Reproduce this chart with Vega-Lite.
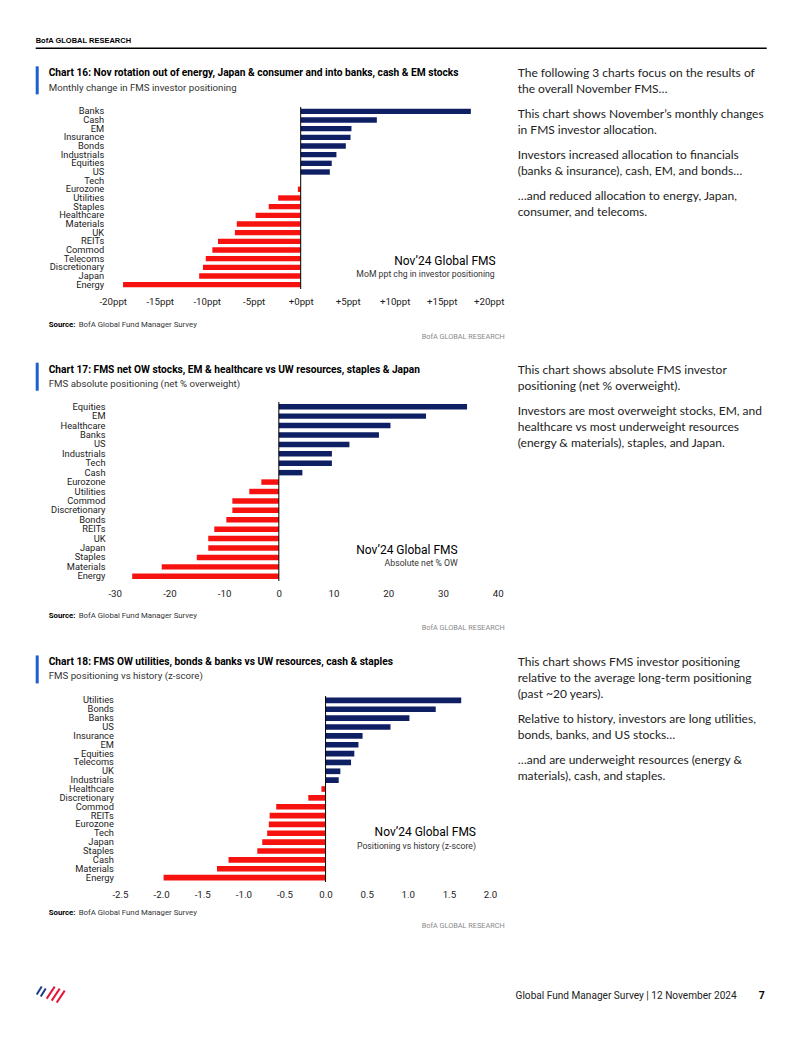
{
  "$schema": "https://vega.github.io/schema/vega-lite/v6.json",
  "padding": {"left": 34, "top": 37, "right": 0, "bottom": 0},
  "autosize": {"type": "pad"},
  "background": "white",
  "spacing": 21,
  "config": {
    "view": {"stroke": null},
    "axis": {"labelFont": "Roboto", "labelColor": "#222", "domain": false, "ticks": false, "grid": false, "labelFlush": false, "labelOverlap": false},
    "text": {"font": "Roboto"}
  },
  "datasets": {
    "c16": [
      {"cat": "Banks", "value": 18.1}, {"cat": "Cash", "value": 8.1}, {"cat": "EM", "value": 5.4},
      {"cat": "Insurance", "value": 5.3}, {"cat": "Bonds", "value": 4.8}, {"cat": "Industrials", "value": 3.8},
      {"cat": "Equities", "value": 3.3}, {"cat": "US", "value": 3.1}, {"cat": "Tech", "value": 0},
      {"cat": "Eurozone", "value": -0.3}, {"cat": "Utilities", "value": -2.4}, {"cat": "Staples", "value": -3.4},
      {"cat": "Healthcare", "value": -4.8}, {"cat": "Materials", "value": -6.8}, {"cat": "UK", "value": -7.0},
      {"cat": "REITs", "value": -8.8}, {"cat": "Commod", "value": -9.4}, {"cat": "Telecoms", "value": -10.1},
      {"cat": "Discretionary", "value": -10.4}, {"cat": "Japan", "value": -10.8}, {"cat": "Energy", "value": -18.9}
    ],
    "c17": [
      {"cat": "Equities", "value": 34.4}, {"cat": "EM", "value": 26.9}, {"cat": "Healthcare", "value": 20.4},
      {"cat": "Banks", "value": 18.3}, {"cat": "US", "value": 12.9}, {"cat": "Industrials", "value": 9.7},
      {"cat": "Tech", "value": 9.7}, {"cat": "Cash", "value": 4.3}, {"cat": "Eurozone", "value": -3.2},
      {"cat": "Utilities", "value": -5.4}, {"cat": "Commod", "value": -8.5}, {"cat": "Discretionary", "value": -8.5},
      {"cat": "Bonds", "value": -9.6}, {"cat": "REITs", "value": -11.8}, {"cat": "UK", "value": -12.9},
      {"cat": "Japan", "value": -12.9}, {"cat": "Staples", "value": -15.0}, {"cat": "Materials", "value": -21.4},
      {"cat": "Energy", "value": -26.8}
    ],
    "c18": [
      {"cat": "Utilities", "value": 1.65}, {"cat": "Bonds", "value": 1.34}, {"cat": "Banks", "value": 1.02},
      {"cat": "US", "value": 0.79}, {"cat": "Insurance", "value": 0.45}, {"cat": "EM", "value": 0.40},
      {"cat": "Equities", "value": 0.35}, {"cat": "Telecoms", "value": 0.31}, {"cat": "UK", "value": 0.18},
      {"cat": "Industrials", "value": 0.16}, {"cat": "Healthcare", "value": -0.05}, {"cat": "Discretionary", "value": -0.21},
      {"cat": "Commod", "value": -0.60}, {"cat": "REITs", "value": -0.68}, {"cat": "Eurozone", "value": -0.69},
      {"cat": "Tech", "value": -0.71}, {"cat": "Japan", "value": -0.77}, {"cat": "Staples", "value": -0.83},
      {"cat": "Cash", "value": -1.18}, {"cat": "Materials", "value": -1.32}, {"cat": "Energy", "value": -1.97}
    ],
    "t16": [
      {"para": 1, "text": "The following 3 charts focus on the results of\nthe overall November FMS…"},
      {"para": 2, "text": "This chart shows November’s monthly changes\nin FMS investor allocation."},
      {"para": 3, "text": "Investors increased allocation to financials\n(banks & insurance), cash, EM, and bonds…"},
      {"para": 4, "text": "…and reduced allocation to energy, Japan,\nconsumer, and telecoms."}
    ],
    "t17": [
      {"para": 1, "text": "This chart shows absolute FMS investor\npositioning (net % overweight)."},
      {"para": 2, "text": "Investors are most overweight stocks, EM, and\nhealthcare vs most underweight resources\n(energy & materials), staples, and Japan."}
    ],
    "t18": [
      {"para": 1, "text": "This chart shows FMS investor positioning\nrelative to the average long-term positioning\n(past ~20 years)."},
      {"para": 2, "text": "Relative to history, investors are long utilities,\nbonds, banks, and US stocks…"},
      {"para": 3, "text": "…and are underweight resources (energy &\nmaterials), cash, and staples."}
    ]
  },
  "vconcat": [
    {
      "width": 368.7, "height": 182,
      "resolve": {"scale": {"y": "independent"}},
      "layer": [
        {
          "layer": [
            {
              "data": {"name": "c16"},
              "mark": {"type": "bar"},
              "encoding": {
                "y": {"field": "cat", "type": "nominal", "sort": null,
                  "scale": {"domain": ["Banks","Cash","EM","Insurance","Bonds","Industrials","Equities","US","Tech","Eurozone","Utilities","Staples","Healthcare","Materials","UK","REITs","Commod","Telecoms","Discretionary","Japan","Energy"], "paddingInner": 0.38, "paddingOuter": 0.19},
                  "axis": {"title": null, "labelFontSize": 9.3, "labelPadding": 16.3}},
                "x": {"field": "value", "type": "quantitative",
                  "scale": {"domain": [-20, 20], "range": [-7.3, 368.7], "nice": false, "zero": false},
                  "axis": {"title": null, "values": [-20,-15,-10,-5,0,5,10,15,20], "labelFontSize": 9.7, "labelPadding": 7,
                    "labelExpr": "datum.value > 0 ? '+' + datum.value + 'ppt' : (datum.value == 0 ? '+0ppt' : datum.value + 'ppt')"}},
                "color": {"condition": {"test": "datum.value < 0", "value": "#f5120f"}, "value": "#0f1f63"}
              }
            },
            {"data": {"values": [{}]}, "mark": {"type": "rule", "color": "#000", "strokeWidth": 1}, "encoding": {"x": {"datum": 0}}},
            {"data": {"values": [{}]}, "mark": {"type": "text", "text": "BofA GLOBAL RESEARCH", "font": "Liberation Sans", "fontWeight": "bold", "fontSize": 7.5, "align": "left", "baseline": "middle", "dx": -77, "dy": -70, "color": "#000"},
              "encoding": {"x": {"datum": -20}, "y": {"datum": "Banks"}}},
            {"data": {"values": [{}]}, "mark": {"type": "rule", "color": "#000", "strokeWidth": 1.5, "xOffset": -77, "x2Offset": 278, "yOffset": -63},
              "encoding": {"x": {"datum": -20}, "x2": {"datum": 20}, "y": {"datum": "Banks"}}},
            {"data": {"values": [{}]}, "mark": {"type": "rule", "color": "#1b5fd1", "strokeWidth": 3, "xOffset": -75.5, "yOffset": -45, "y2Offset": -17},
              "encoding": {"x": {"datum": -20}, "y": {"datum": "Banks"}, "y2": {"datum": "Banks"}}},
            {"data": {"values": [{}]}, "mark": {"type": "text", "text": "Chart 16: Nov rotation out of energy, Japan & consumer and into banks, cash & EM stocks", "fontWeight": "bold", "fontSize": 10.2, "align": "left", "baseline": "middle", "dx": -64, "dy": -38, "color": "#000"},
              "encoding": {"x": {"datum": -20}, "y": {"datum": "Banks"}}},
            {"data": {"values": [{}]}, "mark": {"type": "text", "text": "Monthly change in FMS investor positioning", "fontSize": 9.7, "align": "left", "baseline": "middle", "dx": -64, "dy": -23, "color": "#333"},
              "encoding": {"x": {"datum": -20}, "y": {"datum": "Banks"}}},
            {"data": {"values": [{}]}, "mark": {"type": "text", "text": "Nov’24 Global FMS", "fontSize": 12, "align": "right", "baseline": "middle", "dx": 7, "dy": -24, "color": "#000"},
              "encoding": {"x": {"datum": 20}, "y": {"datum": "Energy"}}},
            {"data": {"values": [{}]}, "mark": {"type": "text", "text": "MoM ppt chg in investor positioning", "fontSize": 8.7, "align": "right", "baseline": "middle", "dx": 6, "dy": -11, "color": "#333"},
              "encoding": {"x": {"datum": 20}, "y": {"datum": "Energy"}}},
            {"data": {"values": [{}]}, "mark": {"type": "text", "text": "Source:", "fontWeight": "bold", "fontSize": 7.8, "align": "left", "baseline": "middle", "dx": -64, "dy": 40, "color": "#000"},
              "encoding": {"x": {"datum": -20}, "y": {"datum": "Energy"}}},
            {"data": {"values": [{}]}, "mark": {"type": "text", "text": "BofA Global Fund Manager Survey", "fontSize": 7.8, "align": "left", "baseline": "middle", "dx": -34, "dy": 40, "color": "#333"},
              "encoding": {"x": {"datum": -20}, "y": {"datum": "Energy"}}},
            {"data": {"values": [{}]}, "mark": {"type": "text", "text": "BofA GLOBAL RESEARCH", "fontSize": 7.3, "align": "right", "baseline": "middle", "dx": 16, "dy": 52, "color": "#8a8a8a"},
              "encoding": {"x": {"datum": 20}, "y": {"datum": "Energy"}}}
          ]
        },
        {
          "data": {"name": "t16"},
          "mark": {"type": "text", "font": "Lato", "fontSize": 12, "align": "left", "baseline": "alphabetic", "lineBreak": "\n", "lineHeight": 16, "dx": 29, "color": "#222"},
          "encoding": {
            "x": {"datum": 20},
            "y": {"field": "para", "type": "ordinal", "scale": {"type": "point", "range": [-29.7, 93.3], "padding": 0}, "axis": null},
            "text": {"field": "text"}
          }
        }
      ]
    },
    {
      "width": 377.7, "height": 179,
      "resolve": {"scale": {"y": "independent"}},
      "layer": [
        {
          "layer": [
            {
              "data": {"name": "c17"},
              "mark": {"type": "bar"},
              "encoding": {
                "y": {"field": "cat", "type": "nominal", "sort": null,
                  "scale": {"domain": ["Equities","EM","Healthcare","Banks","US","Industrials","Tech","Cash","Eurozone","Utilities","Commod","Discretionary","Bonds","REITs","UK","Japan","Staples","Materials","Energy"], "paddingInner": 0.42, "paddingOuter": 0.21},
                  "axis": {"title": null, "labelFontSize": 9.3, "labelPadding": 15}},
                "x": {"field": "value", "type": "quantitative",
                  "scale": {"domain": [-30, 40], "range": [-5.3, 377.7], "nice": false, "zero": false},
                  "axis": {"title": null, "values": [-30,-20,-10,0,10,20,30,40], "labelFontSize": 9.7, "labelPadding": 7, "labelExpr": "datum.value + ''"}},
                "color": {"condition": {"test": "datum.value < 0", "value": "#f5120f"}, "value": "#0f1f63"}
              }
            },
            {"data": {"values": [{}]}, "mark": {"type": "rule", "color": "#000", "strokeWidth": 1}, "encoding": {"x": {"datum": 0}}},
            {"data": {"values": [{}]}, "mark": {"type": "rule", "color": "#1b5fd1", "strokeWidth": 3, "xOffset": -77.5, "yOffset": -44, "y2Offset": -16},
              "encoding": {"x": {"datum": -30}, "y": {"datum": "Equities"}, "y2": {"datum": "Equities"}}},
            {"data": {"values": [{}]}, "mark": {"type": "text", "text": "Chart 17: FMS net OW stocks, EM & healthcare vs UW resources, staples & Japan", "fontWeight": "bold", "fontSize": 10.2, "align": "left", "baseline": "middle", "dx": -66, "dy": -37, "color": "#000"},
              "encoding": {"x": {"datum": -30}, "y": {"datum": "Equities"}}},
            {"data": {"values": [{}]}, "mark": {"type": "text", "text": "FMS absolute positioning (net % overweight)", "fontSize": 9.7, "align": "left", "baseline": "middle", "dx": -66, "dy": -23, "color": "#333"},
              "encoding": {"x": {"datum": -30}, "y": {"datum": "Equities"}}},
            {"data": {"values": [{}]}, "mark": {"type": "text", "text": "Nov’24 Global FMS", "fontSize": 12, "align": "right", "baseline": "middle", "dx": -40, "dy": -26, "color": "#000"},
              "encoding": {"x": {"datum": 40}, "y": {"datum": "Energy"}}},
            {"data": {"values": [{}]}, "mark": {"type": "text", "text": "Absolute net % OW", "fontSize": 8.7, "align": "right", "baseline": "middle", "dx": -40, "dy": -13, "color": "#333"},
              "encoding": {"x": {"datum": 40}, "y": {"datum": "Energy"}}},
            {"data": {"values": [{}]}, "mark": {"type": "text", "text": "Source:", "fontWeight": "bold", "fontSize": 7.8, "align": "left", "baseline": "middle", "dx": -66, "dy": 40, "color": "#000"},
              "encoding": {"x": {"datum": -30}, "y": {"datum": "Energy"}}},
            {"data": {"values": [{}]}, "mark": {"type": "text", "text": "BofA Global Fund Manager Survey", "fontSize": 7.8, "align": "left", "baseline": "middle", "dx": -36, "dy": 40, "color": "#333"},
              "encoding": {"x": {"datum": -30}, "y": {"datum": "Energy"}}},
            {"data": {"values": [{}]}, "mark": {"type": "text", "text": "BofA GLOBAL RESEARCH", "fontSize": 7.3, "align": "right", "baseline": "middle", "dx": 7, "dy": 52, "color": "#8a8a8a"},
              "encoding": {"x": {"datum": 40}, "y": {"datum": "Energy"}}}
          ]
        },
        {
          "data": {"name": "t17"},
          "mark": {"type": "text", "font": "Lato", "fontSize": 12, "align": "left", "baseline": "alphabetic", "lineBreak": "\n", "lineHeight": 16, "dx": 20, "color": "#222"},
          "encoding": {
            "x": {"datum": 40},
            "y": {"field": "para", "type": "ordinal", "scale": {"type": "point", "range": [-28, 13], "padding": 0}, "axis": null},
            "text": {"field": "text"}
          }
        }
      ]
    },
    {
      "width": 370, "height": 186,
      "resolve": {"scale": {"y": "independent"}},
      "layer": [
        {
          "layer": [
            {
              "data": {"name": "c18"},
              "mark": {"type": "bar"},
              "encoding": {
                "y": {"field": "cat", "type": "nominal", "sort": null,
                  "scale": {"domain": ["Utilities","Bonds","Banks","US","Insurance","EM","Equities","Telecoms","UK","Industrials","Healthcare","Discretionary","Commod","REITs","Eurozone","Tech","Japan","Staples","Cash","Materials","Energy"], "paddingInner": 0.36, "paddingOuter": 0.18},
                  "axis": {"title": null, "labelFontSize": 9.3, "labelPadding": 6.6}},
                "x": {"field": "value", "type": "quantitative",
                  "scale": {"domain": [-2.5, 2.0], "nice": false, "zero": false},
                  "axis": {"title": null, "values": [-2.5,-2,-1.5,-1,-0.5,0,0.5,1,1.5,2], "labelFontSize": 9.7, "labelPadding": 7, "labelExpr": "replace(format(datum.value, '.1f'), '−', '-')"}},
                "color": {"condition": {"test": "datum.value < 0", "value": "#f5120f"}, "value": "#0f1f63"}
              }
            },
            {"data": {"values": [{}]}, "mark": {"type": "rule", "color": "#000", "strokeWidth": 1}, "encoding": {"x": {"datum": 0}}},
            {"data": {"values": [{}]}, "mark": {"type": "rule", "color": "#1b5fd1", "strokeWidth": 3, "xOffset": -82.8, "yOffset": -45, "y2Offset": -17},
              "encoding": {"x": {"datum": -2.5}, "y": {"datum": "Utilities"}, "y2": {"datum": "Utilities"}}},
            {"data": {"values": [{}]}, "mark": {"type": "text", "text": "Chart 18: FMS OW utilities, bonds & banks vs UW resources, cash & staples", "fontWeight": "bold", "fontSize": 10.2, "align": "left", "baseline": "middle", "dx": -71.3, "dy": -38, "color": "#000"},
              "encoding": {"x": {"datum": -2.5}, "y": {"datum": "Utilities"}}},
            {"data": {"values": [{}]}, "mark": {"type": "text", "text": "FMS positioning vs history (z-score)", "fontSize": 9.7, "align": "left", "baseline": "middle", "dx": -71.3, "dy": -24, "color": "#333"},
              "encoding": {"x": {"datum": -2.5}, "y": {"datum": "Utilities"}}},
            {"data": {"values": [{}]}, "mark": {"type": "text", "text": "Nov’24 Global FMS", "fontSize": 12, "align": "right", "baseline": "middle", "dx": -14, "dy": -46, "color": "#000"},
              "encoding": {"x": {"datum": 2.0}, "y": {"datum": "Energy"}}},
            {"data": {"values": [{}]}, "mark": {"type": "text", "text": "Positioning vs history (z-score)", "fontSize": 8.7, "align": "right", "baseline": "middle", "dx": -14, "dy": -32, "color": "#333"},
              "encoding": {"x": {"datum": 2.0}, "y": {"datum": "Energy"}}},
            {"data": {"values": [{}]}, "mark": {"type": "text", "text": "Source:", "fontWeight": "bold", "fontSize": 7.8, "align": "left", "baseline": "middle", "dx": -71.3, "dy": 35, "color": "#000"},
              "encoding": {"x": {"datum": -2.5}, "y": {"datum": "Energy"}}},
            {"data": {"values": [{}]}, "mark": {"type": "text", "text": "BofA Global Fund Manager Survey", "fontSize": 7.8, "align": "left", "baseline": "middle", "dx": -41.3, "dy": 35, "color": "#333"},
              "encoding": {"x": {"datum": -2.5}, "y": {"datum": "Energy"}}},
            {"data": {"values": [{}]}, "mark": {"type": "text", "text": "BofA GLOBAL RESEARCH", "fontSize": 7.3, "align": "right", "baseline": "middle", "dx": 14.7, "dy": 48, "color": "#8a8a8a"},
              "encoding": {"x": {"datum": 2.0}, "y": {"datum": "Energy"}}},
            {"data": {"values": [{}]}, "mark": {"type": "text", "text": "Global Fund Manager Survey | 12 November 2024", "fontSize": 10.1, "align": "right", "baseline": "middle", "dx": 246.7, "dy": 118, "color": "#222"},
              "encoding": {"x": {"datum": 2.0}, "y": {"datum": "Energy"}}},
            {"data": {"values": [{}]}, "mark": {"type": "text", "text": "7", "fontWeight": "bold", "fontSize": 10.5, "align": "right", "baseline": "middle", "dx": 274.7, "dy": 118, "color": "#000"},
              "encoding": {"x": {"datum": 2.0}, "y": {"datum": "Energy"}}},
            {"data": {"values": [{}]}, "mark": {"type": "rule", "color": "#1a3a8c", "strokeWidth": 2, "xOffset": -83.3, "x2Offset": -78.3, "yOffset": 117, "y2Offset": 109},
              "encoding": {"x": {"datum": -2.5}, "x2": {"datum": -2.5}, "y": {"datum": "Energy"}, "y2": {"datum": "Energy"}}},
            {"data": {"values": [{}]}, "mark": {"type": "rule", "color": "#1a3a8c", "strokeWidth": 2, "xOffset": -79.3, "x2Offset": -74.3, "yOffset": 119, "y2Offset": 111},
              "encoding": {"x": {"datum": -2.5}, "x2": {"datum": -2.5}, "y": {"datum": "Energy"}, "y2": {"datum": "Energy"}}},
            {"data": {"values": [{}]}, "mark": {"type": "rule", "color": "#e31837", "strokeWidth": 2, "xOffset": -73.3, "x2Offset": -65.3, "yOffset": 121, "y2Offset": 109},
              "encoding": {"x": {"datum": -2.5}, "x2": {"datum": -2.5}, "y": {"datum": "Energy"}, "y2": {"datum": "Energy"}}},
            {"data": {"values": [{}]}, "mark": {"type": "rule", "color": "#e31837", "strokeWidth": 2, "xOffset": -68.3, "x2Offset": -60.3, "yOffset": 123, "y2Offset": 111},
              "encoding": {"x": {"datum": -2.5}, "x2": {"datum": -2.5}, "y": {"datum": "Energy"}, "y2": {"datum": "Energy"}}},
            {"data": {"values": [{}]}, "mark": {"type": "rule", "color": "#e31837", "strokeWidth": 2, "xOffset": -63.3, "x2Offset": -55.3, "yOffset": 125, "y2Offset": 113},
              "encoding": {"x": {"datum": -2.5}, "x2": {"datum": -2.5}, "y": {"datum": "Energy"}, "y2": {"datum": "Energy"}}}
          ]
        },
        {
          "data": {"name": "t18"},
          "transform": [{"filter": "datum.para == 1"}],
          "mark": {"type": "text", "font": "Lato", "fontSize": 12, "align": "left", "baseline": "alphabetic", "lineBreak": "\n", "lineHeight": 16, "dx": 27.7, "color": "#222"},
          "encoding": {
            "x": {"datum": 2.0},
            "y": {"field": "para", "type": "ordinal", "scale": {"type": "point", "range": [-29.6, -29.6], "padding": 0}, "axis": null},
            "text": {"field": "text"}
          }
        },
        {
          "data": {"name": "t18"},
          "transform": [{"filter": "datum.para > 1"}],
          "mark": {"type": "text", "font": "Lato", "fontSize": 12, "align": "left", "baseline": "alphabetic", "lineBreak": "\n", "lineHeight": 16, "dx": 27.7, "color": "#222"},
          "encoding": {
            "x": {"datum": 2.0},
            "y": {"field": "para", "type": "ordinal", "scale": {"type": "point", "range": [27.4, 68.4], "padding": 0}, "axis": null},
            "text": {"field": "text"}
          }
        }
      ]
    }
  ]
}
